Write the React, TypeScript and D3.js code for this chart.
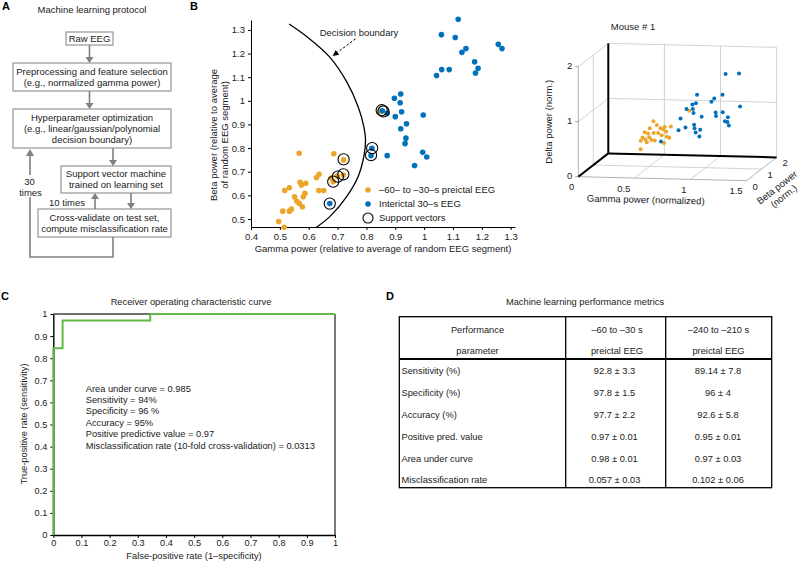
import React, { useEffect, useRef } from 'react';
import * as d3 from 'd3';

// ---------- Panel A: flowchart text ----------
const flowSteps = [
  ['Raw EEG'],
  ['Preprocessing and feature selection', '(e.g., normalized gamma power)'],
  ['Hyperparameter optimization', '(e.g., linear/gaussian/polynomial', 'decision boundary)'],
  ['Support vector machine', 'trained on learning set'],
  ['Cross-validate on test set,', 'compute misclassification rate'],
];

// ---------- Panel B: 2D scatter (gamma vs beta) ----------
const preictalGamma = [0.567, 0.687, 0.721, 0.636, 0.627, 0.57, 0.59, 0.575, 0.678, 0.699, 0.72, 0.685, 0.533, 0.517, 0.635, 0.652, 0.587, 0.581, 0.551, 0.558, 0.567, 0.578, 0.54, 0.51, 0.533, 0.496, 0.515, 0.85];
const preictalBeta = [0.778, 0.776, 0.75, 0.689, 0.675, 0.655, 0.651, 0.644, 0.673, 0.682, 0.686, 0.658, 0.632, 0.62, 0.62, 0.62, 0.609, 0.594, 0.594, 0.576, 0.566, 0.552, 0.542, 0.533, 0.533, 0.489, 0.465, 0.955];
const interictalGamma = [1.118, 1.06, 1.108, 1.131, 1.145, 1.257, 1.27, 1.175, 1.187, 1.178, 1.061, 1.087, 1.043, 0.897, 0.919, 0.917, 0.922, 0.9, 0.997, 0.939, 0.919, 0.937, 0.934, 0.995, 1.009, 0.967, 0.872, 0.819, 0.816, 0.855, 0.872, 0.673];
const interictalBeta = [1.345, 1.28, 1.268, 1.205, 1.221, 1.239, 1.221, 1.165, 1.138, 1.118, 1.132, 1.132, 1.107, 1.011, 1.029, 0.992, 0.954, 0.933, 0.94, 0.903, 0.882, 0.842, 0.819, 0.782, 0.762, 0.726, 0.768, 0.799, 0.768, 0.958, 0.947, 0.565];
const supportGamma = [0.721, 0.72, 0.701, 0.685, 0.673, 0.82, 0.816, 0.853, 0.859];
const supportBeta = [0.752, 0.689, 0.679, 0.658, 0.565, 0.8, 0.77, 0.96, 0.955];
const boundaryGamma = [0.532, 0.593, 0.673, 0.731, 0.771, 0.791, 0.797, 0.791, 0.771, 0.731, 0.673, 0.627];
const boundaryBeta = [1.325, 1.272, 1.185, 1.082, 0.976, 0.891, 0.834, 0.764, 0.679, 0.594, 0.51, 0.465];
const xTicksB = [0.4, 0.5, 0.6, 0.7, 0.8, 0.9, 1, 1.1, 1.2, 1.3];
const yTicksB = [0.5, 0.6, 0.7, 0.8, 0.9, 1, 1.1, 1.2, 1.3];
const legendB = ['\u201360\u2013 to \u201330\u2013s preictal EEG', 'Interictal 30\u2013s EEG', 'Support vectors'];

// ---------- Panel B: 3D scatter, mouse #1 ----------
const pre3dGamma = [0.576, 0.612, 0.552, 0.508, 0.537, 0.492, 0.478, 0.516, 0.546, 0.528, 0.567, 0.582, 0.641, 0.677, 0.695, 0.656, 0.626, 0.701, 0.73, 0.68, 0.721, 0.478, 0.597, 0.665, 0.893];
const pre3dBeta = [0.7, 0.66, 0.64, 0.62, 0.63, 0.6, 0.59, 0.61, 0.64, 0.62, 0.63, 0.67, 0.68, 0.69, 0.66, 0.65, 0.64, 0.66, 0.71, 0.63, 0.68, 0.58, 0.64, 0.7, 0.72];
const pre3dDelta = [0.89, 0.83, 0.77, 0.7, 0.68, 0.61, 0.55, 0.57, 0.61, 0.52, 0.56, 0.68, 0.77, 0.79, 0.71, 0.65, 0.69, 0.62, 0.8, 0.51, 0.6, 0.4, 0.55, 0.74, 1.09];
const inter3dGamma = [1.159, 1.283, 0.922, 1.07, 1.138, 1.046, 0.886, 0.915, 0.838, 0.891, 0.9, 0.975, 0.788, 1.085, 1.144, 1.091, 1.189, 1.165, 1.189, 1.203, 1.292, 0.906, 0.913, 0.966, 0.832, 0.773, 0.922, 0.96, 0.61];
const inter3dBeta = [1.15, 1.12, 1.02, 1.06, 1.1, 1.05, 0.98, 1.0, 0.95, 0.97, 0.95, 0.93, 0.92, 1.04, 1.07, 1.02, 1.08, 1.06, 1.05, 1.04, 1.12, 0.94, 0.92, 0.9, 0.92, 0.9, 0.93, 0.89, 0.95];
const inter3dDelta = [1.68, 1.7, 1.32, 1.25, 1.31, 1.19, 1.15, 1.17, 1.07, 1.07, 1.0, 0.94, 0.9, 1.0, 1.0, 0.94, 0.91, 0.84, 0.83, 0.77, 1.1, 0.79, 0.73, 0.71, 0.74, 0.69, 0.65, 0.59, 0.47];
const gammaTicks3d = [0, 0.5, 1, 1.5];
const betaTicks3d = [0, 1, 2];
const deltaTicks3d = [0, 1, 2];

// ---------- Panel C: ROC ----------
const rocFpr = [0, 0, 0.033, 0.033, 0.344, 0.344, 1];
const rocTpr = [0, 0.845, 0.845, 0.971, 0.971, 1, 1];
const rocTicks = [0, 0.1, 0.2, 0.3, 0.4, 0.5, 0.6, 0.7, 0.8, 0.9, 1];
const rocStats = [
  'Area under curve = 0.985',
  'Sensitivity = 94%',
  'Specificity = 96 %',
  'Accuracy = 95%',
  'Positive predictive value = 0.97',
  'Misclassification rate (10-fold cross-validation) = 0.0313',
];

// ---------- Panel D: table ----------
const tableHeaders = [['Performance', 'parameter'], ['\u201360 to \u201330 s', 'preictal EEG'], ['\u2013240 to \u2013210 s', 'preictal EEG']];
const metricNames = ['Sensitivity (%)', 'Specificity (%)', 'Accuracy (%)', 'Positive pred. value', 'Area under curve', 'Misclassification rate'];
const metrics60 = ['92.8 \u00b1 3.3', '97.8 \u00b1 1.5', '97.7 \u00b1 2.2', '0.97 \u00b1 0.01', '0.98 \u00b1 0.01', '0.057 \u00b1 0.03'];
const metrics240 = ['89.14 \u00b1 7.8', '96 \u00b1 4', '92.6 \u00b1 5.8', '0.95 \u00b1 0.01', '0.97 \u00b1 0.03', '0.102 \u00b1 0.06'];

const FONT = '"Liberation Sans", Arial, Helvetica, sans-serif';
const ORANGE = '#EBA62A';
const BLUE = '#0072BD';
const GREEN = '#63B946';
const FLOW_GRAY = '#808080';
const TXT = '#1a1a1a';

export default function App() {
  const svgRef = useRef<SVGSVGElement>(null);

  useEffect(() => {
    if (!svgRef.current) return;
    const svg = d3.select(svgRef.current);
    svg.selectAll('*').remove();
    svg.attr('font-family', FONT).attr('font-size', 9.3);

    const text = (g: any, x: number, y: number, s: string, anchor = 'middle') =>
      g.append('text').attr('x', x).attr('y', y).attr('text-anchor', anchor).attr('fill', TXT).text(s);

    // 1. PANEL LETTERS
    [['A', 2, 10], ['B', 190, 10], ['C', 1, 300], ['D', 386, 300]].forEach(([l, x, y]) => {
      svg.append('text').attr('x', x).attr('y', y).attr('font-size', 11).attr('font-weight', 'bold').attr('fill', '#000').text(l as string);
    });

    // 2. PANEL A - FLOWCHART
    const gA = svg.append('g').attr('font-size', 9.5);
    text(gA, 92, 13, 'Machine learning protocol');
    const boxes = [
      { x: 66, y: 32, w: 47, h: 13 },
      { x: 13, y: 63, w: 158, h: 28 },
      { x: 13, y: 109, w: 158, h: 39 },
      { x: 61, y: 166, w: 110, h: 27 },
      { x: 38, y: 209, w: 133, h: 28 },
    ];
    boxes.forEach((b, i) => {
      gA.append('rect').attr('x', b.x).attr('y', b.y).attr('width', b.w).attr('height', b.h)
        .attr('fill', '#fff').attr('stroke', FLOW_GRAY).attr('stroke-width', 1);
      const lines = flowSteps[i];
      const lh = 10.8;
      lines.forEach((s, j) => {
        text(gA, b.x + b.w / 2, b.y + b.h / 2 - ((lines.length - 1) * lh) / 2 + j * lh + 3.3, s);
      });
    });
    const arrow = (x: number, y1: number, y2: number) => {
      const dir = y2 > y1 ? 1 : -1;
      const head = 6;
      gA.append('line').attr('x1', x).attr('x2', x).attr('y1', y1).attr('y2', y2 - dir * head)
        .attr('stroke', FLOW_GRAY).attr('stroke-width', 1.6);
      gA.append('path').attr('d', `M${x - 4},${y2 - dir * head}L${x + 4},${y2 - dir * head}L${x},${y2}Z`).attr('fill', FLOW_GRAY);
    };
    arrow(89.5, 45, 63);
    arrow(89.5, 91, 109);
    arrow(113, 148, 166);
    arrow(131, 193, 209);
    arrow(95, 209, 193);
    gA.append('path').attr('d', 'M113,237V257H30V156').attr('fill', 'none').attr('stroke', FLOW_GRAY).attr('stroke-width', 1.6);
    gA.append('path').attr('d', 'M26,156L34,156L30,149Z').attr('fill', FLOW_GRAY);
    gA.append('rect').attr('x', 18).attr('y', 175).attr('width', 24).attr('height', 22).attr('fill', '#fff');
    text(gA, 29.5, 185, '30');
    text(gA, 30.5, 196, 'times');
    text(gA, 67, 206, '10 times');

    // 3. PANEL B - 2D SCATTER
    const gB = svg.append('g');
    const xB = d3.scaleLinear().domain([0.4, 1.315]).range([251, 515]);
    const yB = d3.scaleLinear().domain([0.466, 1.342]).range([227, 20]);
    const fmt = d3.format('~g');
    const xAxB = gB.append('g').attr('transform', 'translate(0,227)')
      .call(d3.axisBottom(xB).tickValues(xTicksB).tickFormat(fmt as any).tickSize(3).tickSizeOuter(0));
    const yAxB = gB.append('g').attr('transform', 'translate(251,0)')
      .call(d3.axisLeft(yB).tickValues(yTicksB).tickFormat(fmt as any).tickSize(3).tickSizeOuter(0));
    [xAxB, yAxB].forEach((a) => {
      a.attr('font-family', FONT).attr('font-size', 9.5);
      a.selectAll('text').attr('fill', TXT);
      a.select('.domain').attr('stroke', '#000').attr('stroke-width', 1);
    });
    text(gB, 383, 251.5, 'Gamma power (relative to average of random EEG segment)').attr('font-size', 9.5);
    const yl = gB.append('text').attr('transform', 'translate(217,135) rotate(-90)').attr('text-anchor', 'middle')
      .attr('font-size', 9.5).attr('fill', TXT);
    yl.append('tspan').attr('x', 0).attr('dy', 0).text('Beta power (relative to average');
    yl.append('tspan').attr('x', 0).attr('dy', 10.5).text('of random EEG segment)');

    const boundary = d3.line<number>().x((d, i) => xB(boundaryGamma[i])).y((d) => yB(d)).curve(d3.curveCatmullRom);
    gB.append('path').datum(boundaryBeta).attr('d', boundary).attr('fill', 'none').attr('stroke', '#000').attr('stroke-width', 1.3);

    preictalGamma.forEach((g, i) => {
      gB.append('circle').attr('cx', xB(g)).attr('cy', yB(preictalBeta[i])).attr('r', 2.8).attr('fill', ORANGE);
    });
    interictalGamma.forEach((g, i) => {
      gB.append('circle').attr('cx', xB(g)).attr('cy', yB(interictalBeta[i])).attr('r', 2.8).attr('fill', BLUE);
    });
    supportGamma.forEach((g, i) => {
      gB.append('circle').attr('cx', xB(g)).attr('cy', yB(supportBeta[i])).attr('r', 5.6)
        .attr('fill', 'none').attr('stroke', '#000').attr('stroke-width', 1.1);
    });

    // decision boundary annotation
    text(gB, 359, 35.5, 'Decision boundary').attr('font-size', 9.5);
    const a0 = [xB(0.762), yB(1.262)];
    const a1 = [xB(0.683), yB(1.19)];
    const ang = Math.atan2(a1[1] - a0[1], a1[0] - a0[0]);
    const hx = a1[0] - 6 * Math.cos(ang), hy = a1[1] - 6 * Math.sin(ang);
    gB.append('line').attr('x1', a0[0]).attr('y1', a0[1]).attr('x2', hx).attr('y2', hy)
      .attr('stroke', '#000').attr('stroke-width', 1).attr('stroke-dasharray', '2.5,1.8');
    const px = -Math.sin(ang) * 3, py = Math.cos(ang) * 3;
    gB.append('path').attr('d', `M${a1[0]},${a1[1]}L${hx + px},${hy + py}L${hx - px},${hy - py}Z`).attr('fill', '#000');

    // legend
    const legY = [190, 204, 218];
    gB.append('circle').attr('cx', 368).attr('cy', legY[0]).attr('r', 2.8).attr('fill', ORANGE);
    gB.append('circle').attr('cx', 368).attr('cy', legY[1]).attr('r', 2.8).attr('fill', BLUE);
    gB.append('circle').attr('cx', 368).attr('cy', legY[2]).attr('r', 5).attr('fill', 'none').attr('stroke', '#000').attr('stroke-width', 1.1);
    legendB.forEach((s, i) => text(gB, 379, legY[i] + 3.4, s, 'start').attr('font-size', 9.5));

    // 4. PANEL B - 3D SCATTER (orthographic projection)
    const g3 = svg.append('g').attr('font-size', 9.5);
    const O = [578.3, 176.7];
    const gS = d3.scaleLinear().domain([0, 1.5]).range([0, 1]);
    const bS = d3.scaleLinear().domain([0, 2]).range([0, 1]);
    const dS = d3.scaleLinear().domain([0, 2]).range([0, 1]);
    const GV = [168.3, 4], BV = [30, -23.3], DV = [0, -110];
    const proj = (g: number, b: number, d: number) => [
      O[0] + gS(g) * GV[0] + bS(b) * BV[0] + dS(d) * DV[0],
      O[1] + gS(g) * GV[1] + bS(b) * BV[1] + dS(d) * DV[1],
    ];
    const seg = (p: number[], q: number[], color: string, w: number) => {
      const A = proj(p[0], p[1], p[2]), B = proj(q[0], q[1], q[2]);
      g3.append('line').attr('x1', A[0]).attr('y1', A[1]).attr('x2', B[0]).attr('y2', B[1])
        .attr('stroke', color).attr('stroke-width', w);
    };
    const GRID = '#c8c8c8';
    // grid on back wall, left wall and floor
    [0.5, 1].forEach((g) => { seg([g, 2, 0], [g, 2, 2], GRID, 0.8); seg([g, 0, 0], [g, 2, 0], GRID, 0.8); });
    seg([0, 2, 1], [1.5, 2, 1], GRID, 0.8);
    seg([0, 0, 1], [0, 2, 1], GRID, 0.8);
    seg([0, 1, 0], [0, 1, 2], GRID, 0.8);
    seg([0, 1, 0], [1.5, 1, 0], GRID, 0.8);
    // box edges
    seg([0, 0, 2], [0, 2, 2], GRID, 0.8);
    seg([0, 2, 2], [1.5, 2, 2], GRID, 0.8);
    seg([1.5, 2, 0], [1.5, 2, 2], GRID, 0.8);
    seg([0, 0, 0], [0, 0, 2], '#a0a0a0', 0.8);
    seg([0, 0, 0], [1.5, 0, 0], '#a0a0a0', 0.8);
    seg([1.5, 0, 0], [1.5, 2, 0], '#a0a0a0', 0.8);
    seg([0, 2, 0], [0, 2, 2], '#000', 2);
    seg([0, 0, 0], [0, 2, 0], '#000', 2);
    seg([0, 2, 0], [1.5, 2, 0], '#000', 2);

    pre3dGamma.forEach((g, i) => {
      const p = proj(g, pre3dBeta[i], pre3dDelta[i]);
      g3.append('circle').attr('cx', p[0]).attr('cy', p[1]).attr('r', 2).attr('fill', ORANGE);
    });
    inter3dGamma.forEach((g, i) => {
      const p = proj(g, inter3dBeta[i], inter3dDelta[i]);
      g3.append('circle').attr('cx', p[0]).attr('cy', p[1]).attr('r', 2).attr('fill', BLUE);
    });

    gammaTicks3d.forEach((t) => {
      const p = proj(t, 0, 0);
      text(g3, p[0] - 4, p[1] + 13.5, fmt(t), 'end');
    });
    betaTicks3d.forEach((t) => {
      const p = proj(1.5, t, 0);
      text(g3, p[0] + 6, p[1] + 9, fmt(t), 'start');
    });
    deltaTicks3d.forEach((t) => {
      const p = proj(0, 0, t);
      g3.append('line').attr('x1', p[0] - 3).attr('x2', p[0]).attr('y1', p[1]).attr('y2', p[1]).attr('stroke', '#a0a0a0');
      text(g3, p[0] - 6, p[1] + 2.5, fmt(t), 'end');
    });
    text(g3, 633, 30, 'Mouse # 1');
    g3.append('text').attr('transform', 'translate(551.5,121.7) rotate(-90)').attr('text-anchor', 'middle')
      .attr('fill', TXT).text('Delta power (norm.)');
    g3.append('text').attr('transform', 'translate(645.7,203) rotate(1.4)').attr('text-anchor', 'middle')
      .attr('fill', TXT).text('Gamma power (normalized)');
    const bl = g3.append('text').attr('transform', 'translate(779,190) rotate(-38)').attr('text-anchor', 'middle')
      .attr('fill', TXT);
    bl.append('tspan').attr('x', 0).attr('dy', 0).text('Beta power');
    bl.append('tspan').attr('x', 0).attr('dy', 11).text('(norm.)');

    // 5. PANEL C - ROC CURVE
    const gC = svg.append('g');
    const xR = d3.scaleLinear().domain([0, 1]).range([53.3, 335]);
    const yR = d3.scaleLinear().domain([0, 1]).range([535, 314]);
    text(gC, 191, 305, 'Receiver operating characteristic curve');
    gC.append('line').attr('x1', xR(0)).attr('x2', xR(1)).attr('y1', yR(1)).attr('y2', yR(1)).attr('stroke', '#404040').attr('stroke-width', 1.4);
    gC.append('line').attr('x1', xR(1)).attr('x2', xR(1)).attr('y1', yR(0)).attr('y2', yR(1)).attr('stroke', '#404040').attr('stroke-width', 1.4);
    const xAxR = gC.append('g').attr('transform', `translate(0,${yR(0)})`)
      .call(d3.axisBottom(xR).tickValues(rocTicks).tickFormat(fmt as any).tickSize(3).tickPadding(1.5).tickSizeOuter(0));
    const yAxR = gC.append('g').attr('transform', `translate(${xR(0)},0)`)
      .call(d3.axisLeft(yR).tickValues(rocTicks).tickFormat(fmt as any).tickSize(3).tickSizeOuter(0));
    [xAxR, yAxR].forEach((a) => {
      a.attr('font-family', FONT).attr('font-size', 9.2);
      a.selectAll('text').attr('fill', TXT);
      a.select('.domain').attr('stroke', '#000').attr('stroke-width', 1.4);
    });
    const roc = d3.line<number>().x((d) => xR(d)).y((d, i) => yR(rocTpr[i]));
    gC.append('path').datum(rocFpr).attr('d', roc).attr('fill', 'none').attr('stroke', GREEN).attr('stroke-width', 2);
    text(gC, 194, 559, 'False-positive rate (1\u2013specificity)');
    gC.append('text').attr('transform', 'translate(27,424) rotate(-90)').attr('text-anchor', 'middle')
      .attr('fill', TXT).text('True-positive rate (sensitivity)');
    rocStats.forEach((s, i) => text(gC, 85.7, 391.5 + i * 11.4, s, 'start'));

    // 6. PANEL D - TABLE
    const gD = svg.append('g');
    text(gD, 585, 305, 'Machine learning performance metrics');
    const colX = [399.3, 565.7, 665.7, 771.7];
    const top = 316.7, headBottom = 359, bottom = 487.7;
    const rowY = d3.scaleLinear().domain([0, 5]).range([371, 480]);
    gD.append('rect').attr('x', colX[0]).attr('y', top).attr('width', colX[3] - colX[0]).attr('height', bottom - top)
      .attr('fill', 'none').attr('stroke', '#000').attr('stroke-width', 1.3);
    [colX[1], colX[2]].forEach((x) => gD.append('line').attr('x1', x).attr('x2', x).attr('y1', top).attr('y2', bottom).attr('stroke', '#000').attr('stroke-width', 1.3));
    gD.append('line').attr('x1', colX[0]).attr('x2', colX[3]).attr('y1', headBottom).attr('y2', headBottom).attr('stroke', '#000').attr('stroke-width', 2);
    const headX = [477.5, 617, 718.5];
    tableHeaders.forEach((h, c) => {
      text(gD, headX[c], 332.6, h[0]);
      text(gD, headX[c], 354.3, h[1]);
    });
    metricNames.forEach((m, r) => {
      const y = rowY(r) + 3.3;
      text(gD, 401.5, y, m, 'start');
      text(gD, 614.5, y, metrics60[r]);
      text(gD, 718, y, metrics240[r]);
    });
  }, []);

  return (
    <svg
      ref={svgRef}
      width={800}
      height={561}
      style={{ position: 'absolute', left: 0, top: 0, background: '#fff', display: 'block' }}
    />
  );
}
